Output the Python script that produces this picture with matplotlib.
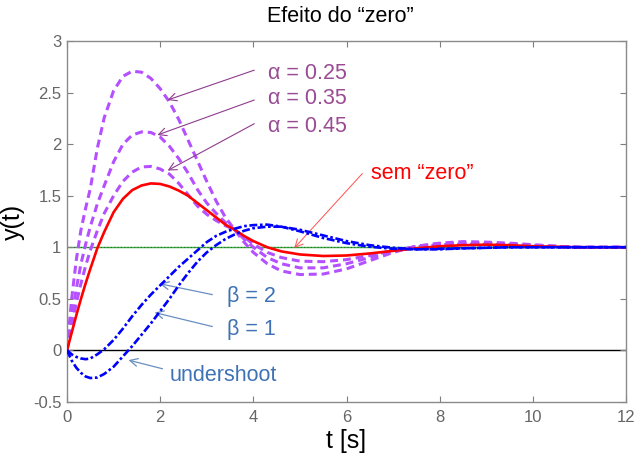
import numpy as np
import matplotlib
matplotlib.use('Agg')
import matplotlib.pyplot as plt

plt.rcParams['font.family'] = ['Liberation Sans', 'DejaVu Sans']
plt.rcParams['axes.unicode_minus'] = False

# time samples (s)
t = [0, 0.1, 0.2, 0.3, 0.4, 0.5, 0.65, 0.8, 1.0, 1.2, 1.4, 1.6, 1.8, 2.0, 2.2, 2.4,
     2.6, 2.8, 3.0, 3.2, 3.4, 3.6, 3.8, 4.0, 4.3, 4.6, 5.0, 5.5, 6.0, 6.5, 7.0, 7.5,
     8.0, 8.5, 9.0, 9.5, 10, 10.5, 11, 12]

# resposta sem zero
y_sem_zero = [0, 0.17, 0.34, 0.50, 0.65, 0.79, 0.99, 1.15, 1.34, 1.47, 1.555, 1.60, 1.62, 1.615,
              1.59, 1.55, 1.50, 1.43, 1.36, 1.29, 1.22, 1.17, 1.11, 1.06, 1.0, 0.96, 0.93, 0.915,
              0.92, 0.94, 0.965, 0.99, 1.01, 1.02, 1.025, 1.02, 1.01, 1.005, 1.0, 1.0]

# zero no semiplano esquerdo
alphas = ['0.25', '0.35', '0.45']
y_alpha_025 = [0, 0.5, 0.88, 1.17, 1.38, 1.57, 1.96, 2.26, 2.52, 2.66, 2.71, 2.70, 2.64, 2.54,
               2.41, 2.24, 2.04, 1.84, 1.64, 1.45, 1.29, 1.17, 1.05, 0.95, 0.84, 0.77, 0.735, 0.74,
               0.79, 0.87, 0.95, 1.01, 1.04, 1.055, 1.05, 1.04, 1.025, 1.01, 1.0, 1.0]
y_alpha_035 = [0, 0.32, 0.6, 0.84, 1.03, 1.2, 1.42, 1.6, 1.83, 2.0, 2.09, 2.12, 2.115, 2.07,
               1.98, 1.86, 1.72, 1.56, 1.43, 1.33, 1.24, 1.17, 1.08, 1.0, 0.9, 0.84, 0.80, 0.80,
               0.84, 0.9, 0.96, 1.01, 1.035, 1.04, 1.04, 1.03, 1.02, 1.01, 1.0, 1.0]
y_alpha_045 = [0, 0.24, 0.46, 0.65, 0.82, 0.97, 1.16, 1.33, 1.50, 1.64, 1.73, 1.78, 1.785, 1.76,
               1.71, 1.62, 1.51, 1.40, 1.32, 1.26, 1.21, 1.17, 1.1, 1.03, 0.95, 0.9, 0.865, 0.86,
               0.88, 0.92, 0.97, 1.005, 1.025, 1.03, 1.03, 1.025, 1.015, 1.005, 1.0, 1.0]

# zero no semiplano direito
y_beta_2 = [0, -0.04, -0.065, -0.08, -0.087, -0.08, -0.04, 0.01, 0.1, 0.21, 0.33, 0.44, 0.54, 0.63,
            0.72, 0.81, 0.89, 0.97, 1.05, 1.11, 1.15, 1.18, 1.205, 1.215, 1.22, 1.2, 1.155, 1.09,
            1.04, 1.005, 0.985, 0.98, 0.985, 0.99, 0.995, 1.0, 1.0, 1.0, 1.0, 1.0]
y_beta_1 = [0, -0.1, -0.17, -0.22, -0.255, -0.27, -0.265, -0.23, -0.16, -0.06, 0.04, 0.15, 0.26,
            0.38, 0.5, 0.63, 0.75, 0.86, 0.95, 1.02, 1.08, 1.125, 1.16, 1.185, 1.2, 1.2, 1.17,
            1.115, 1.06, 1.02, 0.995, 0.98, 0.98, 0.99, 0.995, 1.0, 1.0, 1.0, 1.0, 1.0]

fig = plt.figure(figsize=(6.34, 4.55), dpi=100)
ax = fig.add_axes([0.1057, 0.1171, 0.8817, 0.7921])

ax.axhline(0, color='black', lw=1.0, zorder=1)
ax.axhline(1, color='#3cb043', lw=1.0, zorder=1)
ax.axhline(1, color='#2a6a2a', lw=0.8, ls=(0, (1, 2)), zorder=1)

mag = '#b450ff'
for y in (y_alpha_025, y_alpha_035, y_alpha_045):
    ax.plot(t, y, color=mag, lw=2.2, dashes=(2.6, 1.6), zorder=2)

ax.plot(t, y_sem_zero, color='#ff0000', lw=1.9, zorder=3)

for y in (y_beta_2, y_beta_1):
    ax.plot(t, y, color='#0000ff', lw=1.9, dashes=(3, 1, 1, 1), zorder=4)

ax.set_xlim(0, 12)
ax.set_ylim(-0.5, 3)
ax.set_xticks(np.arange(0, 13, 2))
ax.set_yticks(np.arange(-0.5, 3.01, 0.5))
ax.set_yticklabels(['-0.5', '0', '0.5', '1', '1.5', '2', '2.5', '3'])
ax.tick_params(direction='in', length=4, width=0.8, color='#7f7f7f', labelcolor='#666666',
               labelsize=12, top=True, right=True)
ax.tick_params(axis='y', pad=4)
ax.tick_params(axis='x', pad=6)
for s in ax.spines.values():
    s.set_color('#8a8a8a')
    s.set_linewidth(1.0)

ax.set_xlabel('t [s]', fontsize=18, labelpad=3)
ax.set_ylabel('y(t)', fontsize=18, labelpad=6)
fig.text(340 / 634, 1 - 17 / 455, 'Efeito do “zero”', fontsize=15.5, ha='center', va='center')

# anotacoes
purple = '#9a4b93'
arrow_purple = '#8e3c8e'
alpha_txt_y = [2.69, 2.44, 2.17]
alpha_tail_y = [2.72, 2.43, 2.2]
alpha_head = [(2.16, 2.43), (1.94, 2.09), (2.16, 1.745)]
for a, ty, tail, head in zip(alphas, alpha_txt_y, alpha_tail_y, alpha_head):
    ax.text(4.32, ty, 'α = ' + a, color=purple, fontsize=15.5, va='center', ha='left')
    ax.annotate('', xy=head, xytext=(4.02, tail),
                arrowprops=dict(arrowstyle='->', color=arrow_purple, lw=0.8,
                                shrinkA=0, shrinkB=0, mutation_scale=14))

ax.text(6.53, 1.716, 'sem “zero”', color='#ff0000', fontsize=15.5, va='center', ha='left')
ax.annotate('', xy=(4.88, 0.993), xytext=(6.34, 1.716),
            arrowprops=dict(arrowstyle='->', color='#ff5050', lw=0.7,
                            shrinkA=0, shrinkB=0, mutation_scale=14))

steel = '#3f72b5'
arrow_steel = '#6a8fc0'
ax.text(3.44, 0.52, 'β = 2', color=steel, fontsize=15.5, va='center', ha='left')
ax.text(3.44, 0.20, 'β = 1', color=steel, fontsize=15.5, va='center', ha='left')
ax.text(2.2, -0.25, 'undershoot', color=steel, fontsize=15.5, va='center', ha='left')
for tail, head in [((3.12, 0.54), (1.99, 0.646)), ((3.12, 0.23), (1.88, 0.366)),
                   ((2.05, -0.18), (1.32, -0.096))]:
    ax.annotate('', xy=head, xytext=tail,
                arrowprops=dict(arrowstyle='->', color=arrow_steel, lw=0.9,
                                shrinkA=0, shrinkB=0, mutation_scale=14))

fig.savefig('out.png', dpi=100)
